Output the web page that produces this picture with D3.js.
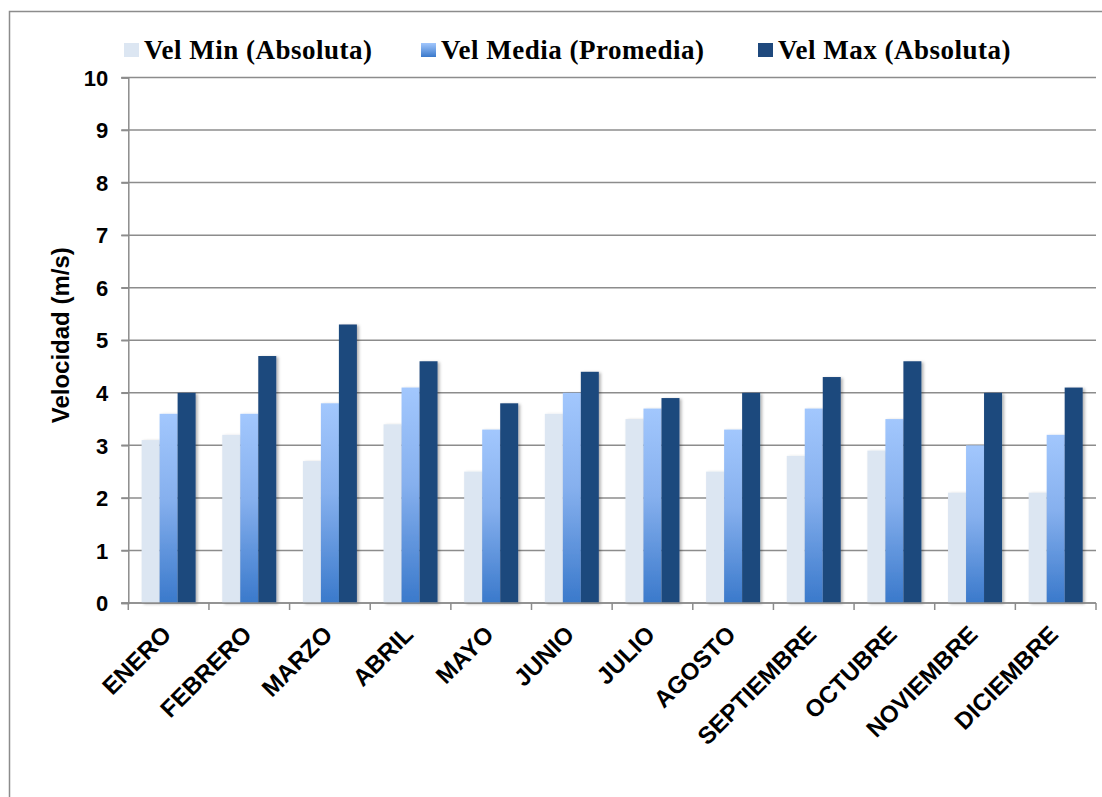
<!DOCTYPE html>
<html>
<head>
<meta charset="utf-8">
<script src="https://cdn.jsdelivr.net/npm/d3@7/dist/d3.min.js"></script>
<style>
  html, body { margin: 0; padding: 0; background: #fff; }
  svg { display: block; }
</style>
</head>
<body>
<svg id="chart" width="1102" height="797"></svg>
<script>
// Monthly wind speed: absolute minimum, mean and absolute maximum (m/s)
const months = ["ENERO", "FEBRERO", "MARZO", "ABRIL", "MAYO", "JUNIO",
                "JULIO", "AGOSTO", "SEPTIEMBRE", "OCTUBRE", "NOVIEMBRE", "DICIEMBRE"];
const seriesNames = ["Vel Min (Absoluta)", "Vel Media (Promedia)", "Vel Max (Absoluta)"];
const velMin   = [3.1, 3.2, 2.7, 3.4, 2.5, 3.6, 3.5, 2.5, 2.8, 2.9, 2.1, 2.1];
const velMedia = [3.6, 3.6, 3.8, 4.1, 3.3, 4.0, 3.7, 3.3, 3.7, 3.5, 3.0, 3.2];
const velMax   = [4.0, 4.7, 5.3, 4.6, 3.8, 4.4, 3.9, 4.0, 4.3, 4.6, 4.0, 4.1];
const yTicks = [0, 1, 2, 3, 4, 5, 6, 7, 8, 9, 10];
const yTitle = "Velocidad (m/s)";

const seriesValues = [velMin, velMedia, velMax];

const svg = d3.select("#chart");
const defs = svg.append("defs");

// vertical gradient for the mean-speed bars
const grad = defs.append("linearGradient")
  .attr("id", "mediaGrad").attr("x1", 0).attr("y1", 0).attr("x2", 0).attr("y2", 1);
grad.append("stop").attr("offset", "0%").attr("stop-color", "#a2c7fd");
grad.append("stop").attr("offset", "45%").attr("stop-color", "#86b0ee");
grad.append("stop").attr("offset", "100%").attr("stop-color", "#3a79cb");

const shadow = defs.append("filter").attr("id", "barShadow")
  .attr("x", "-20%").attr("y", "-5%").attr("width", "150%").attr("height", "115%");
shadow.append("feDropShadow").attr("dx", 2).attr("dy", 1)
  .attr("stdDeviation", 1.4).attr("flood-color", "#000").attr("flood-opacity", 0.3);

const fills = ["#dce6f2", "url(#mediaGrad)", "#1f497d"];
const swatchFills = ["#dce6f2", "url(#swatchGrad)", "#1f497d"];
const sg = defs.append("linearGradient")
  .attr("id", "swatchGrad").attr("x1", 0).attr("y1", 0).attr("x2", 0).attr("y2", 1);
sg.append("stop").attr("offset", "0%").attr("stop-color", "#a2c7fd");
sg.append("stop").attr("offset", "100%").attr("stop-color", "#3a79cb");

// outer frame
svg.append("rect")
  .attr("x", 9.5).attr("y", 11.5).attr("width", 1110).attr("height", 820)
  .attr("fill", "none").attr("stroke", "#8c8c8c").attr("stroke-width", 1.5);

const plotLeft = 128.3, plotRight = 1096, plotTop = 77.5, plotBottom = 603;

const y = d3.scaleLinear().domain([0, 10]).range([plotBottom, plotTop]);
const x0 = d3.scaleBand().domain(months).range([plotLeft, plotRight]).padding(0);
const x1 = d3.scaleBand().domain(seriesNames).range([0, x0.bandwidth()])
  .paddingInner(0).paddingOuter(0.74);

const gridColor = "#8c8c8c";

// horizontal gridlines (with the left tick stubs)
svg.append("g").selectAll("line").data(yTicks).join("line")
  .attr("x1", plotLeft - 7).attr("x2", plotRight)
  .attr("y1", d => y(d)).attr("y2", d => y(d))
  .attr("stroke", gridColor).attr("stroke-width", 1.5);

// y axis
const yAxis = svg.append("g").attr("transform", `translate(${plotLeft},0)`)
  .call(d3.axisLeft(y).tickValues(yTicks).tickSize(7).tickPadding(13).tickFormat(d3.format("d")));
yAxis.select(".domain").attr("stroke", gridColor).attr("stroke-width", 1.5);
yAxis.selectAll(".tick line").attr("stroke", gridColor).attr("stroke-width", 1.5);
yAxis.selectAll(".tick text")
  .attr("font-family", "Liberation Sans, Arial, sans-serif")
  .attr("font-weight", "bold").attr("font-size", 22).attr("fill", "#000")
  .attr("dy", "0.35em");

// bars
const groups = svg.append("g").selectAll("g").data(months).join("g")
  .attr("transform", d => `translate(${x0(d)},0)`);
groups.selectAll("rect")
  .data((m, i) => seriesValues.map((vals, s) => ({ s, v: vals[i] })))
  .join("rect")
  .attr("x", d => x1(seriesNames[d.s]))
  .attr("width", x1.bandwidth())
  .attr("y", d => y(d.v))
  .attr("height", d => y(0) - y(d.v))
  .attr("fill", d => fills[d.s])
  .attr("filter", "url(#barShadow)");

// x axis with category boundary ticks
const xAxisG = svg.append("g");
xAxisG.append("line")
  .attr("x1", plotLeft - 7).attr("x2", plotRight).attr("y1", plotBottom).attr("y2", plotBottom)
  .attr("stroke", gridColor).attr("stroke-width", 1.5);
const bounds = months.map(m => x0(m)).concat([plotRight]);
xAxisG.selectAll("line.tk").data(bounds).join("line").attr("class", "tk")
  .attr("x1", d => d).attr("x2", d => d)
  .attr("y1", plotBottom).attr("y2", plotBottom + 7)
  .attr("stroke", gridColor).attr("stroke-width", 1.5);

// rotated month labels
svg.append("g").selectAll("text").data(months).join("text")
  .attr("transform", d => `translate(${x0(d) + x0.bandwidth() / 2 + 4},${plotBottom + 33}) rotate(-45)`)
  .attr("text-anchor", "end")
  .attr("font-family", "Liberation Sans, Arial, sans-serif")
  .attr("font-weight", "bold").attr("font-size", 24).attr("fill", "#000")
  .text(d => d);

// y axis title
svg.append("text")
  .attr("transform", `translate(69,${(plotTop + plotBottom) / 2 - 5}) rotate(-90)`)
  .attr("text-anchor", "middle")
  .attr("font-family", "Liberation Sans, Arial, sans-serif")
  .attr("font-weight", "bold").attr("font-size", 24).attr("fill", "#000")
  .text(yTitle);

// legend
const legendX = [124, 421, 758];
const legend = svg.append("g").selectAll("g").data(seriesNames).join("g")
  .attr("transform", (d, i) => `translate(${legendX[i]},0)`);
legend.append("rect")
  .attr("x", 0).attr("y", 43).attr("width", 15).attr("height", 14)
  .attr("fill", (d, i) => swatchFills[i]);
legend.append("text")
  .attr("x", 20).attr("y", 59)
  .attr("font-family", "Liberation Serif, Times New Roman, serif")
  .attr("font-weight", "bold").attr("font-size", 27).attr("letter-spacing", 0.5)
  .attr("fill", "#000")
  .text(d => d);
</script>
</body>
</html>
